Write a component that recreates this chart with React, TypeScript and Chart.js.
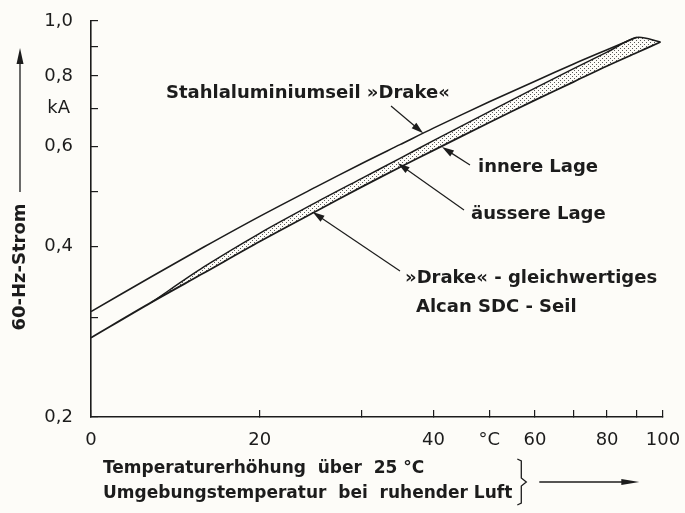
import React, { useEffect, useRef } from 'react';
import { Chart, registerables } from 'chart.js';

Chart.register(...registerables);

// Temperature rise (K above 25 °C ambient) – log scale
const TEMP_DRAKE = [10.2, 13, 16, 20, 25, 30, 35, 40, 50, 60, 70, 80, 90];
const CURRENT_DRAKE = [0.307, 0.354, 0.399, 0.452, 0.509, 0.56, 0.605, 0.647, 0.72, 0.783, 0.84, 0.89, 0.936];

const TEMP_SDC_LOWER = [10.2, 13, 16, 20, 25, 30, 35, 40, 50, 60, 70, 80, 90, 99];
const CURRENT_SDC_LOWER = [0.276, 0.319, 0.359, 0.408, 0.461, 0.509, 0.552, 0.591, 0.662, 0.725, 0.781, 0.833, 0.879, 0.918];

const TEMP_SDC_UPPER = [13, 16, 20, 25, 30, 35, 40, 50, 60, 70, 80, 90, 99];
const CURRENT_SDC_UPPER = [0.319, 0.368, 0.422, 0.478, 0.527, 0.572, 0.615, 0.692, 0.761, 0.824, 0.881, 0.935, 0.918];

const X_MIN = 10.2;
const X_MAX = 100;
const X_TICKS = [10.2, 20, 30, 40, 50, 60, 70, 80, 90, 100];
const X_TICK_LABELS = ['0', '20', '', '40', '°C', '60', '', '80', '', '100'];

const Y_MIN = 0.2;
const Y_MAX = 1.0;
const Y_TICKS = [0.2, 0.3, 0.4, 0.5, 0.6, 0.7, 0.8, 0.9, 1.0];
const Y_TICK_LABELS = ['0,2', '', '0,4', '', '0,6', 'kA', '0,8', '', '1,0'];

const Y_TITLE = '60-Hz-Strom';
const X_TITLE_1 = 'Temperaturerhöhung  über  25 °C';
const X_TITLE_2 = 'Umgebungstemperatur  bei  ruhender Luft';

// annotation texts, arrow tips given in data coordinates
const NOTES = [
  { lines: ['Stahlaluminiumseil »Drake«'], x: 166, y: 93, tail: [391, 106], tip: [38.4, 0.634] },
  { lines: ['innere Lage'], x: 478, y: 167, tail: [470, 165], tip: [41.4, 0.599] },
  { lines: ['äussere Lage'], x: 471, y: 214, tail: [464, 210], tip: [34.7, 0.561] },
  { lines: ['»Drake« - gleichwertiges', 'Alcan SDC - Seil'], x: 405, y: 278, tail: [400, 271], tip: [24.7, 0.46] },
];

const INK = '#1c1c1c';
const FONT = '"DejaVu Sans", sans-serif';

function arrow(ctx: CanvasRenderingContext2D, x1: number, y1: number, x2: number, y2: number, head = 12, half = 3.6) {
  const a = Math.atan2(y2 - y1, x2 - x1);
  const c = Math.cos(a), s = Math.sin(a);
  ctx.beginPath();
  ctx.moveTo(x1, y1);
  ctx.lineTo(x2 - c * head * 0.7, y2 - s * head * 0.7);
  ctx.stroke();
  ctx.beginPath();
  ctx.moveTo(x2, y2);
  ctx.lineTo(x2 - head * c + half * s, y2 - head * s - half * c);
  ctx.lineTo(x2 - head * c - half * s, y2 - head * s + half * c);
  ctx.closePath();
  ctx.fill();
}

const decorPlugin = {
  id: 'decor',
  beforeDraw(chart: any) {
    const ctx = chart.ctx;
    ctx.save();
    ctx.fillStyle = '#fdfcf8';
    ctx.fillRect(0, 0, chart.width, chart.height);
    ctx.restore();
  },
  afterDraw(chart: any) {
    const ctx: CanvasRenderingContext2D = chart.ctx;
    const xs = chart.scales.x;
    const ys = chart.scales.y;
    ctx.save();
    ctx.fillStyle = INK;
    ctx.strokeStyle = INK;
    ctx.lineWidth = 1.2;
    ctx.font = `bold 18px ${FONT}`;
    ctx.textBaseline = 'middle';
    ctx.textAlign = 'left';
    for (const n of NOTES) {
      n.lines.forEach((t, i) => ctx.fillText(t, n.x + (i > 0 ? 11 : 0), n.y + i * 29));
      arrow(ctx, n.tail[0], n.tail[1], xs.getPixelForValue(n.tip[0]), ys.getPixelForValue(n.tip[1]));
    }

    // y axis title with arrow
    ctx.save();
    ctx.translate(20, 267);
    ctx.rotate(-Math.PI / 2);
    ctx.textAlign = 'center';
    ctx.font = `bold 18px ${FONT}`;
    ctx.fillText(Y_TITLE, 0, 0);
    ctx.restore();
    ctx.lineWidth = 1.3;
    arrow(ctx, 20, 192, 20, 48, 16, 3.5);

    // x axis title
    ctx.font = `bold 17px ${FONT}`;
    ctx.textAlign = 'left';
    const lx = 103;
    ctx.fillText(X_TITLE_1, lx, 469);
    ctx.fillText(X_TITLE_2, lx, 494);
    const w2 = ctx.measureText(X_TITLE_2).width;
    const bx = lx + w2 + 9;
    ctx.lineWidth = 1.3;
    ctx.beginPath();
    ctx.moveTo(bx - 4, 459);
    ctx.lineTo(bx, 461);
    ctx.lineTo(bx, 478);
    ctx.lineTo(bx + 5, 482);
    ctx.lineTo(bx, 486);
    ctx.lineTo(bx, 503);
    ctx.lineTo(bx - 4, 505);
    ctx.stroke();
    arrow(ctx, bx + 18, 482, bx + 118, 482, 18, 3);
    ctx.restore();
  },
};

export default function App() {
  const ref = useRef<HTMLCanvasElement | null>(null);

  useEffect(() => {
    const canvas = ref.current;
    if (!canvas) return;
    const g = canvas.getContext('2d')!;
    const tile = document.createElement('canvas');
    tile.width = 4;
    tile.height = 4;
    const tg = tile.getContext('2d')!;
    tg.fillStyle = 'rgba(20,20,20,0.7)';
    tg.fillRect(0, 0, 1, 1);
    tg.fillRect(2, 2, 1, 1);
    const dots = g.createPattern(tile, 'repeat');

    const chart = new Chart(canvas, {
      type: 'line',
      data: {
        datasets: [
          {
            label: 'Stahlaluminiumseil »Drake«',
            data: TEMP_DRAKE.map((x, i) => ({ x, y: CURRENT_DRAKE[i] })),
            borderColor: INK,
            borderWidth: 1.6,
            pointRadius: 0,
            tension: 0.3,
            fill: false,
          },
          {
            label: 'Alcan SDC – innere Lage',
            data: TEMP_SDC_LOWER.map((x, i) => ({ x, y: CURRENT_SDC_LOWER[i] })),
            borderColor: INK,
            borderWidth: 1.8,
            pointRadius: 0,
            tension: 0.3,
            fill: false,
          },
          {
            label: 'Alcan SDC – äussere Lage',
            data: TEMP_SDC_UPPER.map((x, i) => ({ x, y: CURRENT_SDC_UPPER[i] })),
            borderColor: INK,
            borderWidth: 1.5,
            pointRadius: 0,
            tension: 0.3,
            fill: { target: 1 },
            backgroundColor: dots as any,
          },
        ],
      },
      options: {
        responsive: false,
        animation: false,
        layout: { padding: { left: 0, right: 22, top: 21, bottom: 0 } },
        plugins: { legend: { display: false }, tooltip: { enabled: false } },
        scales: {
          x: {
            type: 'logarithmic',
            min: X_MIN,
            max: X_MAX,
            afterBuildTicks: (s: any) => {
              s.ticks = X_TICKS.map((v) => ({ value: v }));
            },
            afterFit: (s: any) => {
              s.height = 96;
              s.paddingLeft = 0;
              s.paddingRight = 0;
            },
            ticks: {
              autoSkip: false,
              maxRotation: 0,
              padding: 20,
              color: INK,
              font: { family: FONT, size: 18 },
              callback: (_v: any, i: number) => X_TICK_LABELS[i],
            },
            grid: { drawOnChartArea: false, drawTicks: true, tickLength: -7, color: INK, lineWidth: 1.2 },
            border: { display: true, color: INK, width: 1.6 },
          },
          y: {
            type: 'logarithmic',
            min: Y_MIN,
            max: Y_MAX,
            afterBuildTicks: (s: any) => {
              s.ticks = Y_TICKS.map((v) => ({ value: v }));
            },
            afterFit: (s: any) => {
              s.width = 91;
              s.paddingTop = 0;
              s.paddingBottom = 0;
            },
            ticks: {
              autoSkip: false,
              padding: 25,
              crossAlign: 'center',
              color: INK,
              font: { family: FONT, size: 18 },
              callback: (_v: any, i: number) => Y_TICK_LABELS[i],
            },
            grid: { drawOnChartArea: false, drawTicks: true, tickLength: -7, color: INK, lineWidth: 1.2 },
            border: { display: true, color: INK, width: 1.6 },
          },
        },
      },
      plugins: [decorPlugin],
    });
    return () => chart.destroy();
  }, []);

  return (
    <div style={{ position: 'fixed', left: 0, top: 0, width: 685, height: 513 }}>
      <canvas ref={ref} width={685} height={513} style={{ width: 685, height: 513, display: 'block' }} />
    </div>
  );
}
